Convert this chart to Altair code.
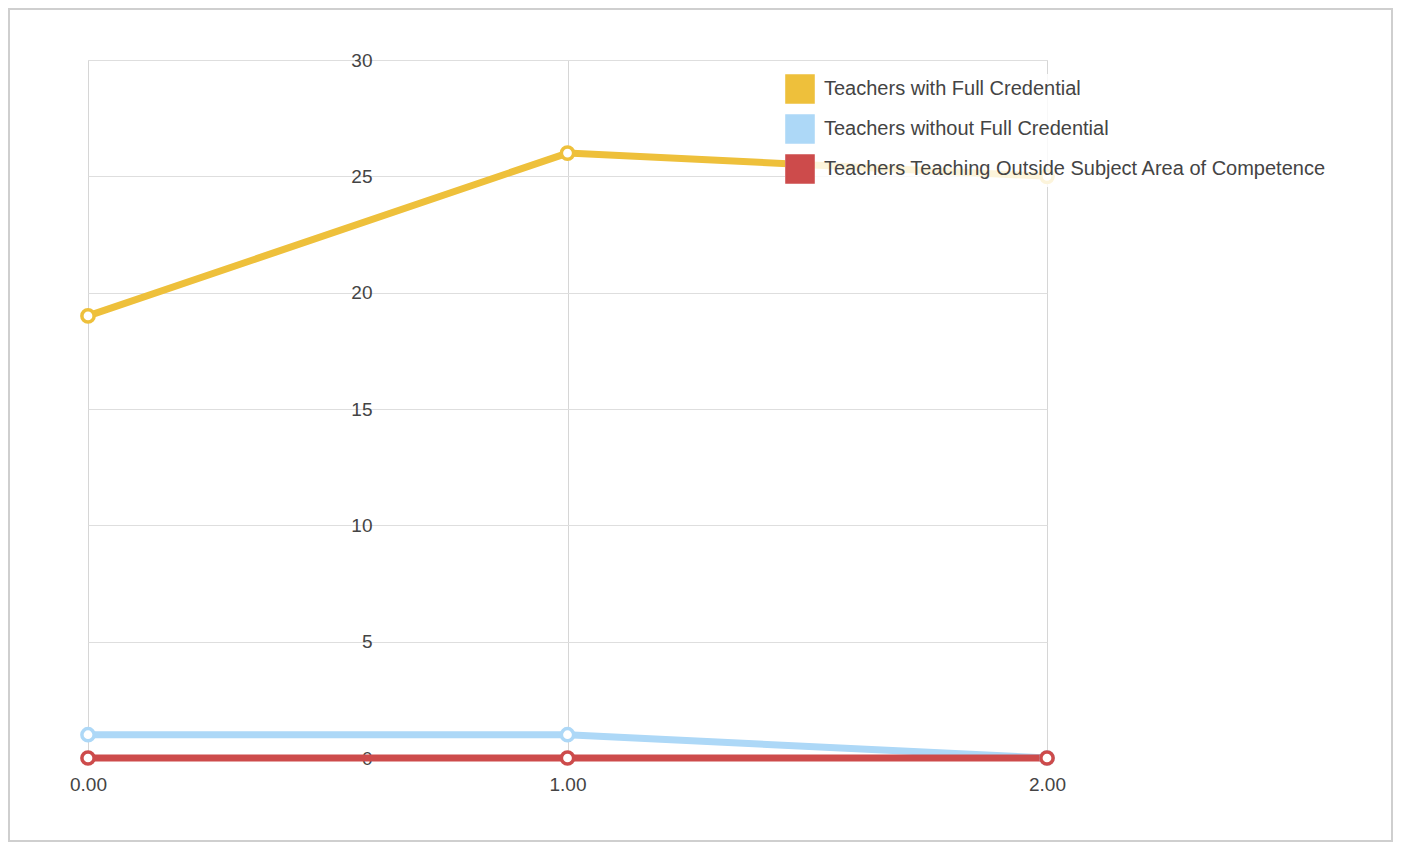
import altair as alt
import pandas as pd

years = [0, 1, 2]
series_names = [
    "Teachers with Full Credential",
    "Teachers without Full Credential",
    "Teachers Teaching Outside Subject Area of Competence",
]
full_credential = [19, 26, 25]
without_credential = [1, 1, 0]
outside_subject = [0, 0, 0]
colors = ["#EEC03B", "#ADD8F7", "#CD4B4B"]

rows = []
for i, (name, vals) in enumerate(zip(series_names, [full_credential, without_credential, outside_subject])):
    for x, v in zip(years, vals):
        rows.append({"series": name, "idx": i, "x": x, "value": v})
df = pd.DataFrame(rows)

font = "Liberation Sans"
W, H = 959, 698
PL, PT, PR, PB = 80, 52, 346, 84

color_scale = alt.Scale(domain=series_names, range=colors)

base = alt.Chart(df).encode(
    x=alt.X(
        "x:Q",
        scale=alt.Scale(domain=[0, 2], nice=False),
        axis=alt.Axis(
            values=[0, 1, 2], format=".2f", title=None, domain=False, ticks=False,
            tickSize=0, labelPadding=17, labelFlush=False, grid=True, gridColor="#d6d6d6",
            labelFontSize=19, labelColor="#444", labelFont=font,
        ),
    ),
    y=alt.Y(
        "value:Q",
        scale=alt.Scale(domain=[0, 30], nice=False),
        axis=alt.Axis(
            values=[0, 5, 10, 15, 20, 25, 30], title=None, domain=False, ticks=False,
            tickSize=0, labelPadding=0, offset=-284, grid=True, gridColor="#dedede",
            labelFontSize=19, labelColor="#444", labelFont=font,
        ),
    ),
    color=alt.Color(
        "series:N",
        scale=color_scale,
        sort=series_names,
        legend=alt.Legend(
            title=None, orient="none", legendX=697, legendY=14,
            fillColor="rgba(255,255,255,0.82)",
            symbolType="square", symbolSize=760, symbolStrokeColor="#cccccc",
            symbolStrokeWidth=2, symbolOpacity=1, labelFontSize=20, labelColor="#444",
            labelFont=font, rowPadding=4, labelOffset=9, labelLimit=0,
        ),
    ),
)

lines = base.mark_line(strokeWidth=7, strokeJoin="round").encode(order=alt.Order("x:Q"))
points = base.mark_point(
    shape="circle", filled=True, fill="white", size=150, strokeWidth=3.5, opacity=1
).encode(
    stroke=alt.Stroke("series:N", scale=color_scale, legend=None),
    order=alt.Order("idx:Q"),
)

frame = alt.Chart(pd.DataFrame({"a": [0]})).mark_rect(
    fill=None, stroke="#cfcfcf", strokeWidth=2
).encode(
    x=alt.value(-PL + 1), x2=alt.value(W + PR - 1),
    y=alt.value(-PT + 1), y2=alt.value(H + PB - 1),
)

chart = alt.layer(frame, lines, points).properties(
    width=W,
    height=H,
    autosize=alt.AutoSizeParams(type="none"),
    padding={"left": PL, "top": PT, "right": PR, "bottom": PB},
).configure_view(stroke=None).configure(font=font)

chart.save("out.html", embed_options={"renderer": "svg", "actions": False})
